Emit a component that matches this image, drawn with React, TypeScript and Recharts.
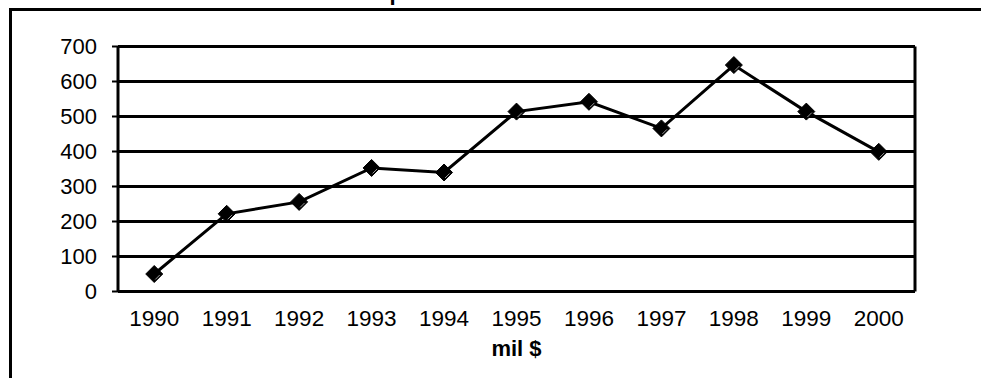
import React from 'react';
import { LineChart, Line, XAxis, YAxis, CartesianGrid, ReferenceLine, Label } from 'recharts';

const years = ['1990', '1991', '1992', '1993', '1994', '1995', '1996', '1997', '1998', '1999', '2000'];
const values = [50, 222, 256, 353, 340, 514, 542, 466, 647, 514, 399];
const yTicks = [0, 100, 200, 300, 400, 500, 600, 700];
const xAxisTitle = 'mil $';
const titleFragment = 'p';

const data = years.map((year, i) => ({ x: i + 0.5, year, value: values[i] }));
const boundaryTicks = years.map((_, i) => i).concat([years.length]);
const centerTicks = data.map((d) => d.x);

const FONT = '"Liberation Sans", Arial, sans-serif';

const Diamond = (props: any) => {
  const { cx, cy, index } = props;
  if (cx == null || cy == null) return <g key={index} />;
  const r = 8.5;
  return (
    <g key={index}>
      <polygon points={`${cx},${cy - r} ${cx + r},${cy} ${cx},${cy + r} ${cx - r},${cy}`} fill="#000" stroke="#000" strokeWidth={1} />
      <polyline points={`${cx + r - 3},${cy + 1} ${cx + 1},${cy + r - 3}`} fill="none" stroke="#9a9a9a" strokeWidth={1} />
    </g>
  );
};

export default function App() {
  return (
    <div style={{ position: 'absolute', left: 0, top: 0, width: 981, height: 378, background: '#fff', overflow: 'hidden' }}>
      <svg style={{ position: 'absolute', left: 0, top: 0 }} width={981} height={20}>
        <text x={389.5} y={0} fontFamily={FONT} fontWeight="bold" fontSize={22} fill="#000">{titleFragment}</text>
      </svg>
      <div style={{ position: 'absolute', left: 9, top: 8, width: 981, height: 378, borderTop: '3px solid #000', borderLeft: '3px solid #000', boxSizing: 'border-box' }} />
      <div style={{ position: 'absolute', left: 0, top: 0 }}>
        <LineChart width={981} height={378} data={data} margin={{ top: 46.5, right: 66, bottom: 22.5, left: 0 }}>
          <CartesianGrid xAxisId="a" vertical={false} horizontal stroke="#000" strokeWidth={3} />
          <XAxis
            xAxisId="b"
            type="number"
            dataKey="x"
            domain={[0, years.length]}
            ticks={centerTicks}
            interval={0}
            tickFormatter={(v: number) => years[Math.floor(v)]}
            axisLine={false}
            tickLine={false}
            tickSize={0}
            tickMargin={10.5}
            height={56}
            tick={{ fill: '#000', fontSize: 22.5, fontFamily: FONT }}
          >
            <Label value={xAxisTitle} position="insideBottom" offset={0} style={{ fill: '#000', fontSize: 22, fontWeight: 'bold', fontFamily: FONT }} />
          </XAxis>
          <XAxis
            xAxisId="a"
            type="number"
            dataKey="x"
            domain={[0, years.length]}
            ticks={boundaryTicks}
            interval={0}
            tick={false}
            tickSize={6}
            tickLine={{ stroke: '#000', strokeWidth: 2 }}
            axisLine={{ stroke: '#000', strokeWidth: 3 }}
            height={8}
          />
          <YAxis
            type="number"
            domain={[0, 700]}
            ticks={yTicks}
            interval={0}
            width={118}
            tickSize={6}
            tickMargin={15}
            tickLine={{ stroke: '#000', strokeWidth: 2 }}
            axisLine={{ stroke: '#000', strokeWidth: 3 }}
            tick={{ fill: '#000', fontSize: 22, fontFamily: FONT }}
          />
          <ReferenceLine xAxisId="a" x={years.length} stroke="#000" strokeWidth={3} />
          <Line
            xAxisId="b"
            type="linear"
            dataKey="value"
            stroke="#000"
            strokeWidth={3}
            dot={Diamond}
            activeDot={false}
            isAnimationActive={false}
          />
        </LineChart>
      </div>
    </div>
  );
}
